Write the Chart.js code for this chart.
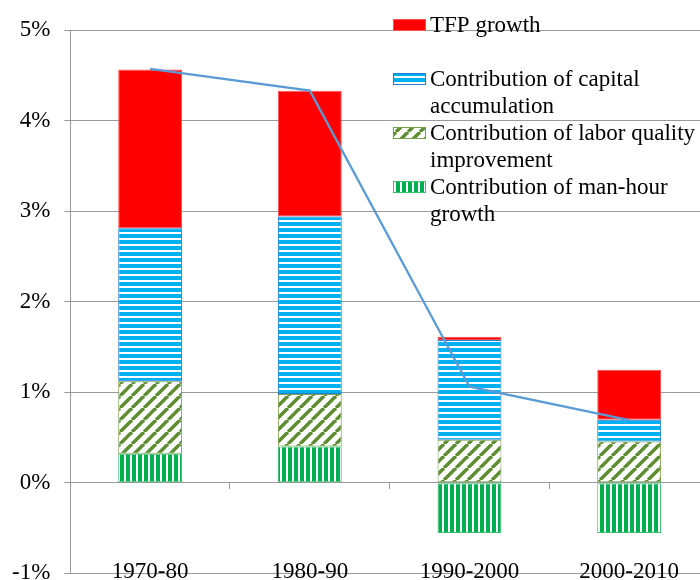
<!DOCTYPE html>
<html>
<head>
<meta charset="utf-8">
<script src="https://cdn.jsdelivr.net/npm/chart.js@4.4.1/dist/chart.umd.min.js"></script>
<style>
  html, body { margin: 0; padding: 0; background: #fff; overflow: hidden; }
  .wrap { width: 700px; height: 580px; overflow: hidden; }
</style>
</head>
<body>
<div class="wrap"><canvas id="growthChart" width="712" height="601"></canvas></div>
<script>
// values in percent
const periods = ['1970-80', '1980-90', '1990-2000', '2000-2010'];
const manHour = [0.32, 0.40, -0.555, -0.555];
const laborQuality = [0.80, 0.58, 0.475, 0.456];
const capital = [1.69, 1.96, 1.10, 0.24];
const tfp = [1.755, 1.39, 0.037, 0.55];
const totalGrowth = [4.57, 4.33, 1.06, 0.69];
const labelMan = ['Contribution of man-hour', 'growth'];
const labelLabor = ['Contribution of labor quality', 'improvement'];
const labelCapital = ['Contribution of capital', 'accumulation'];
const labelTfp = ['TFP growth'];

const FONT = "'Liberation Serif', 'Times New Roman', serif";

const makePattern = (w, h, draw) => {
  const c = document.createElement('canvas');
  c.width = w;
  c.height = h;
  const g = c.getContext('2d');
  g.fillStyle = '#fff';
  g.fillRect(0, 0, w, h);
  draw(g);
  return g.createPattern(c, 'repeat');
}

const hStripes = makePattern(6, 6, g => {
  g.fillStyle = '#00b0f0';
  g.fillRect(0, 0, 6, 4);
});
const vStripes = makePattern(6, 6, g => {
  g.fillStyle = '#00b050';
  g.fillRect(0, 0, 4, 6);
});
const diagStripes = makePattern(12, 12, g => {
  g.strokeStyle = '#5f8d34';
  g.lineWidth = 3.5;
  [-12, 0, 12].forEach(k => {
    g.beginPath();
    g.moveTo(k, 12);
    g.lineTo(k + 12, 0);
    g.stroke();
  });
});

// category names sit low, just above the -1% line (like the original)
const lowLabels = {
  id: 'lowLabels',
  afterDraw(chart) {
    const ctx = chart.ctx;
    const x = chart.scales.x;
    ctx.save();
    ctx.font = '23px ' + FONT;
    ctx.fillStyle = '#000';
    ctx.textAlign = 'center';
    ctx.textBaseline = 'middle';
    chart.data.labels.forEach((lab, i) => {
      ctx.fillText(lab, x.getPixelForValue(i), chart.chartArea.bottom - 1);
    });
    ctx.restore();
  }
};

// legend drawn inside the plot, top right, multi-line labels
const sideLegend = {
  id: 'sideLegend',
  afterDraw(chart) {
    const ctx = chart.ctx;
    const bars = chart.data.datasets.filter(d => d.type !== 'line').slice().reverse();
    ctx.save();
    ctx.font = '23px ' + FONT;
    ctx.textBaseline = 'middle';
    bars.forEach((ds, i) => {
      const y = 25 + i * 54;
      ctx.fillStyle = ds.backgroundColor;
      ctx.fillRect(393, y - 6, 33, 12);
      ctx.strokeStyle = ds.borderColor;
      ctx.lineWidth = 1;
      ctx.strokeRect(393.5, y - 5.5, 32, 11);
      ctx.fillStyle = '#000';
      ds.label.forEach((line, j) => {
        ctx.fillText(line, 430, y + 1 + j * 27);
      });
    });
    ctx.restore();
  }
};

const ctx = document.getElementById('growthChart');

new Chart(ctx, {
  type: 'bar',
  data: {
    labels: periods,
    datasets: [
      {
        type: 'line',
        label: ['Growth'],
        data: totalGrowth,
        borderColor: '#5b9bd5',
        borderWidth: 2.25,
        pointRadius: 0,
        fill: false,
        order: 0
      },
      {
        label: labelMan,
        data: manHour,
        backgroundColor: vStripes,
        borderColor: '#3cbf6a',
        borderWidth: 1,
        borderSkipped: false,
        order: 1
      },
      {
        label: labelLabor,
        data: laborQuality,
        backgroundColor: diagStripes,
        borderColor: '#77a04c',
        borderWidth: 1,
        borderSkipped: false,
        order: 1
      },
      {
        label: labelCapital,
        data: capital,
        backgroundColor: hStripes,
        borderColor: '#1f7fd0',
        borderWidth: 1,
        borderSkipped: false,
        order: 1
      },
      {
        label: labelTfp,
        data: tfp,
        backgroundColor: '#ff0000',
        borderColor: '#ff5050',
        borderWidth: 1,
        borderSkipped: false,
        order: 1
      }
    ]
  },
  options: {
    responsive: false,
    animation: false,
    categoryPercentage: 0.4,
    barPercentage: 1,
    layout: {
      padding: { left: -2, top: 30, right: 3, bottom: 0 }
    },
    scales: {
      x: {
        stacked: true,
        position: { y: 0 },
        grid: {
          drawOnChartArea: false,
          tickLength: 6,
          color: '#9a9a9a',
          offset: true
        },
        border: { display: false },
        ticks: { display: false }
      },
      y: {
        stacked: true,
        min: -1,
        max: 5,
        ticks: {
          stepSize: 1,
          color: '#000',
          padding: 14,
          font: { family: FONT, size: 23 },
          callback: function(value) {
            return value + '%';
          }
        },
        grid: { color: '#9a9a9a', tickLength: 6 },
        border: { color: '#9a9a9a' }
      }
    },
    plugins: {
      legend: { display: false },
      tooltip: { enabled: false }
    }
  },
  plugins: [lowLabels, sideLegend]
});
</script>
</body>
</html>
